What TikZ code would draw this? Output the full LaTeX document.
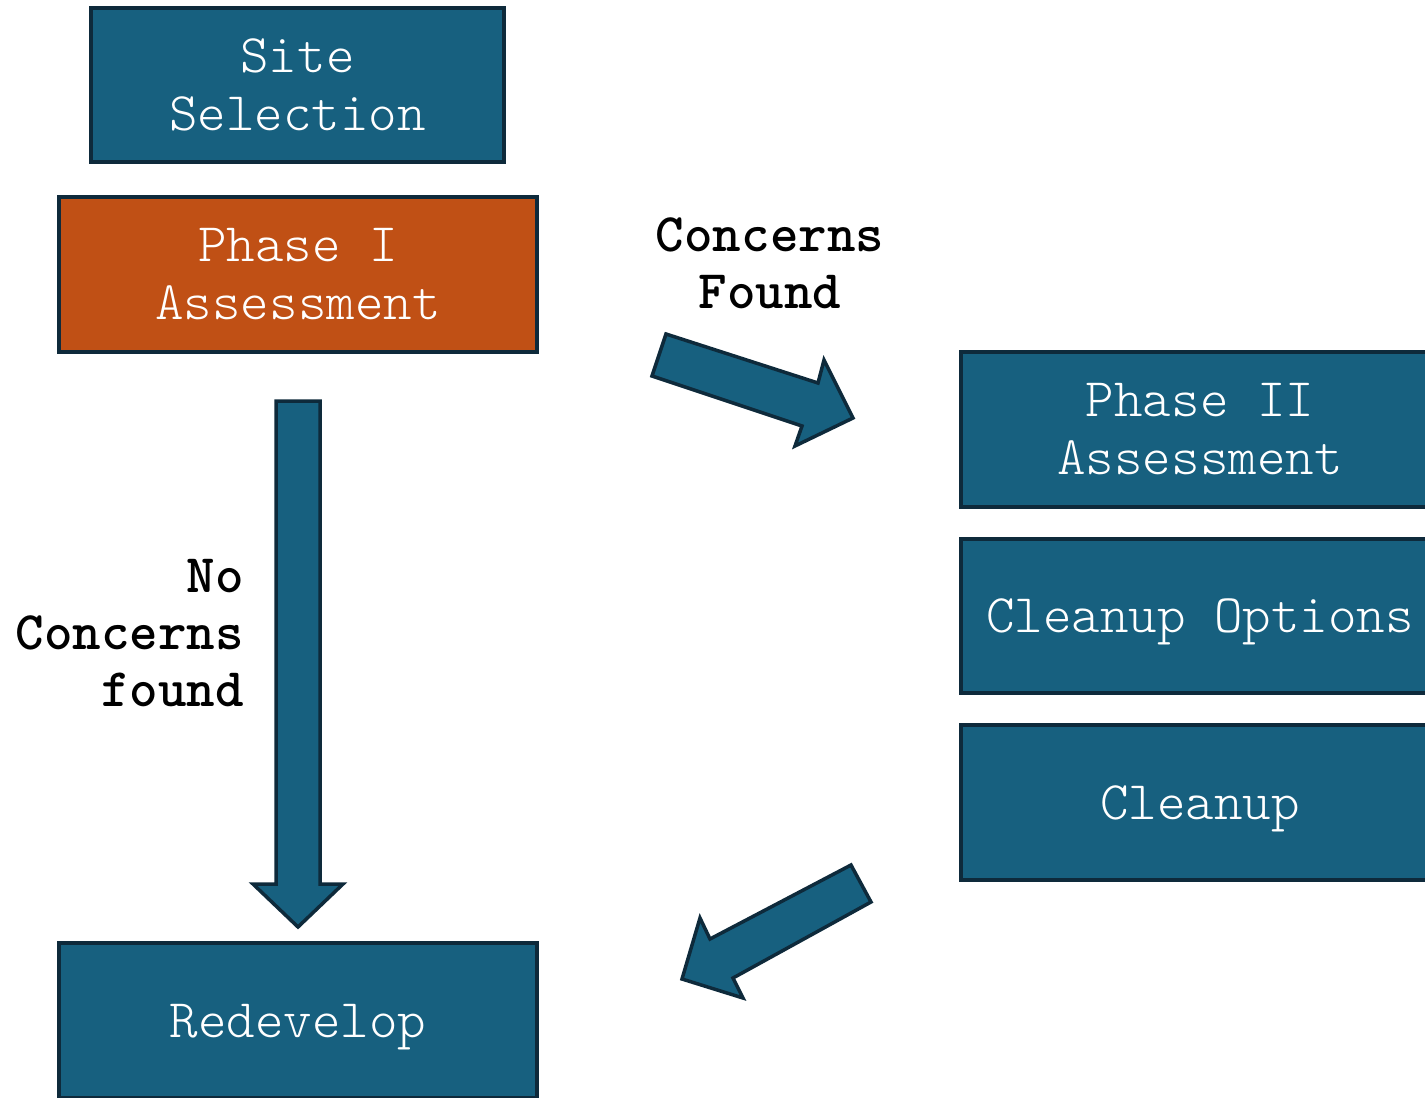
\documentclass[tikz,border=0pt]{standalone}
\usepackage{fontspec}
\definecolor{boxblue}{HTML}{17607F}
\definecolor{boxorange}{HTML}{C05015}
\definecolor{edgenavy}{HTML}{0E2A3B}
\begin{document}
\begin{tikzpicture}[x=1pt,y=-1pt,
  boxstyle/.style={draw=edgenavy,line width=3.5pt,fill=boxblue,text=white,
    align=center,inner sep=0pt,font=\ttfamily\fontseries{l}\selectfont\fontsize{54.3}{58}\selectfont},
  oneline/.style={text depth=0pt},
  lbl/.style={text=black,inner sep=0pt,font=\ttfamily\bfseries\fontsize{54.3}{57}\selectfont},
  blockarrow/.style={draw=edgenavy,line width=3.5pt,fill=boxblue,line join=miter}]
\useasboundingbox (0,0) rectangle (1425,1098);
% boxes
\node[boxstyle,minimum width=413pt,minimum height=154pt] (site) at (297.5,85) {Site\\Selection};
\node[boxstyle,fill=boxorange,minimum width=478pt,minimum height=155pt] (p1) at (298,274.5) {Phase I\\Assessment};
\node[boxstyle,minimum width=478pt,minimum height=155pt] (p2) at (1200,429.5) {Phase II\\Assessment};
\node[boxstyle,oneline,minimum width=478pt,minimum height=154pt] (opts) at (1200,616) {Cleanup Options};
\node[boxstyle,oneline,minimum width=478pt,minimum height=155pt] (clean) at (1200,802.5) {Cleanup};
\node[boxstyle,oneline,minimum width=478pt,minimum height=155pt] (redev) at (298,1020.5) {Redevelop};
% labels
\node[lbl,align=center] (lcf) at (770,263) {Concerns\\Found};
\node[lbl,align=right,anchor=east] (lncf) at (244,633) {No\\Concerns\\found};
% vertical block arrow
\draw[blockarrow] (276,401) -- (320,401) -- (320,884) -- (343,884) -- (298,927)
  -- (253,884) -- (276,884) -- cycle;
% arrow to phase II
\draw[blockarrow] (666,334) -- (818,383) -- (824,360) -- (853,418) -- (795,446)
  -- (802,426) -- (652,376) -- cycle;
% arrow to redevelop
\draw[blockarrow] (851,865) -- (871,902) -- (733,978) -- (743,998) -- (682,979)
  -- (700,918) -- (710,939) -- cycle;
\end{tikzpicture}
\end{document}
